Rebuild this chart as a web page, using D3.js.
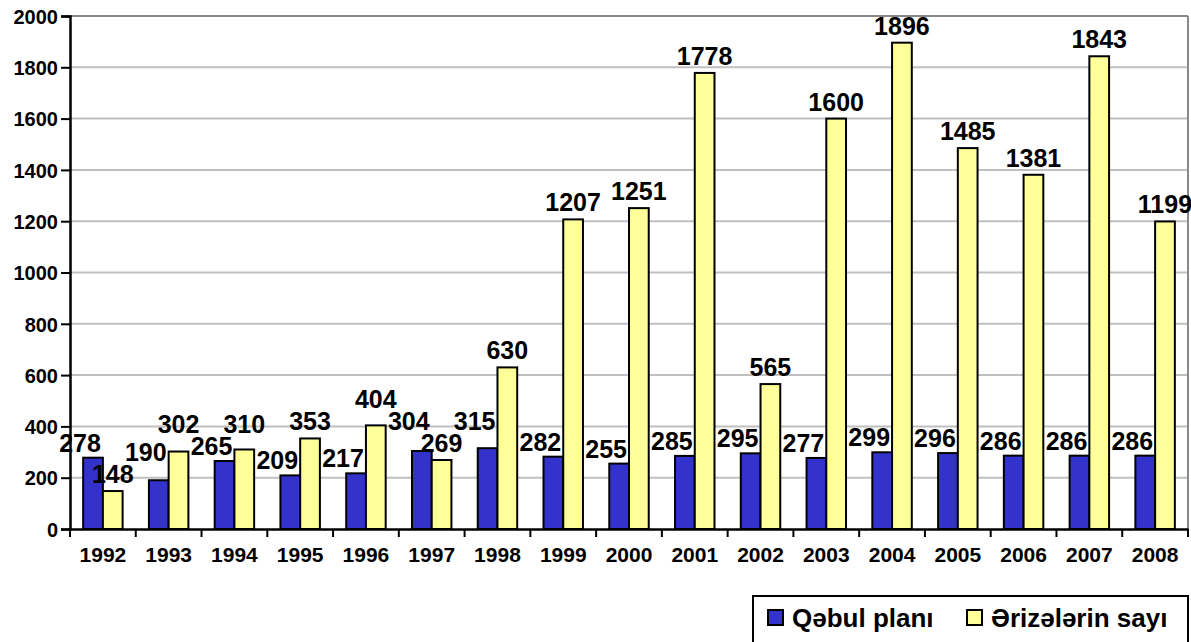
<!DOCTYPE html>
<html><head><meta charset="utf-8">
<script src="https://cdn.jsdelivr.net/npm/d3@7"></script>
<style>body{margin:0;background:#fff}svg{display:block}text{font-family:"Liberation Sans",Arial,sans-serif;font-weight:bold;fill:#000}</style>
</head><body><svg id="c" width="1191" height="642"></svg>
<script>
const years = ["1992","1993","1994","1995","1996","1997","1998","1999","2000","2001","2002","2003","2004","2005","2006","2007","2008"];
const qebulPlani = [278,190,265,209,217,304,315,282,255,285,295,277,299,296,286,286,286];
const erizeSayi = [148,302,310,353,404,269,630,1207,1251,1778,565,1600,1896,1485,1381,1843,1199];
const yTicks = [0,200,400,600,800,1000,1200,1400,1600,1800,2000];
const seriesNames = ["Qəbul planı","Ərizələrin sayı"];
const colors = ["#3333cc","#ffff99"];

const svg = d3.select("#c");
const L=70, R=1188, T=16, B=529;
const y = d3.scaleLinear().domain([0,2000]).range([B,T]);
const xCat = d3.scaleBand().domain(years).range([L,R]).padding(0);
const x0 = d3.scaleBand().domain(years).range([L,R]).paddingInner(0.4).paddingOuter(0.2);
const x1 = d3.scaleBand().domain([0,1]).range([0,x0.bandwidth()]);

// gridlines
svg.append("g").selectAll("line").data(yTicks.filter(v=>v>0)).join("line")
  .attr("x1",L).attr("x2",R).attr("y1",d=>y(d)).attr("y2",d=>y(d))
  .attr("stroke",d=>d===2000?"#888":"#c0c0c0").attr("stroke-width",2);
svg.append("line").attr("x1",R).attr("x2",R).attr("y1",T).attr("y2",B).attr("stroke","#888").attr("stroke-width",2);

// bars
const data = years.map((yr,i)=>({yr, v:[qebulPlani[i], erizeSayi[i]]}));
const g = svg.append("g");
data.forEach(d=>{
  d.v.forEach((v,k)=>{
    g.append("rect").attr("x",x0(d.yr)+x1(k)).attr("y",y(v)).attr("width",x1.bandwidth()).attr("height",B-y(v))
      .attr("fill",colors[k]).attr("stroke","#000").attr("stroke-width",2);
  });
});

// axes
const yAxis = d3.axisLeft(y).tickValues(yTicks).tickFormat(d3.format("d")).tickSize(9).tickPadding(3);
const ya = svg.append("g").attr("transform",`translate(${L},0)`).call(yAxis);
ya.select(".domain").attr("stroke","#000").attr("stroke-width",2.5);
ya.selectAll(".tick line").attr("stroke","#000").attr("stroke-width",2);
ya.selectAll(".tick text").style("font-size","20px").attr("dy","0.36em");

const xa = svg.append("g").attr("transform",`translate(0,${B})`).call(d3.axisBottom(xCat).tickSize(0).tickPadding(18));
xa.select(".domain").attr("stroke","#000").attr("stroke-width",2.5);
xa.selectAll(".tick text").style("font-size","21px");
xa.selectAll("line.bnd").data(years.concat(["end"])).join("line").attr("class","bnd")
  .attr("x1",(d,i)=>L+i*xCat.step()).attr("x2",(d,i)=>L+i*xCat.step()).attr("y1",0).attr("y2",8)
  .attr("stroke","#000").attr("stroke-width",2);

// labels with simple collision avoidance (push upward)
const lg = svg.append("g").style("font-size","25px").attr("text-anchor","middle");
const labels = [];
data.forEach(d=>{
  const bx = x0(d.yr)+x1(0)+x1.bandwidth()/2 - 13;
  const yx = x0(d.yr)+x1(1)+x1.bandwidth()/2;
  labels.push({x:bx, y:y(d.v[0]) - 6, t:d.v[0]});
  labels.push({x:yx, y:y(d.v[1]) - 8, t:d.v[1]});
});
labels.forEach(l=>{ l.node = lg.append("text").attr("x",l.x).attr("y",l.y).text(l.t); l.w = l.node.node().getComputedTextLength(); });
const capH = 19, gap = 3;
const placed = [];
labels.slice().sort((a,b)=>b.y-a.y).forEach(l=>{
  let moved = true;
  while (moved) {
    moved = false;
    for (const p of placed) {
      const hx = Math.abs(l.x - p.x) < (l.w + p.w)/2 + 1;
      const vy = (l.y > p.y - capH - gap) && (l.y - capH - gap < p.y);
      if (hx && vy) { l.y = p.y - capH - gap; moved = true; }
    }
  }
  placed.push(l);
  l.node.attr("y", l.y);
});

// legend
const leg = svg.append("g");
leg.append("rect").attr("x",753).attr("y",596).attr("width",435).attr("height",60).attr("fill","#fff").attr("stroke","#000").attr("stroke-width",2);
const lx = [768, 967];
seriesNames.forEach((n,k)=>{
  leg.append("rect").attr("x",lx[k]).attr("y",610).attr("width",15).attr("height",15).attr("fill",colors[k]).attr("stroke","#000").attr("stroke-width",2);
  leg.append("text").attr("x",lx[k]+24).attr("y",627).style("font-size","26px").text(n);
});
</script></body></html>
